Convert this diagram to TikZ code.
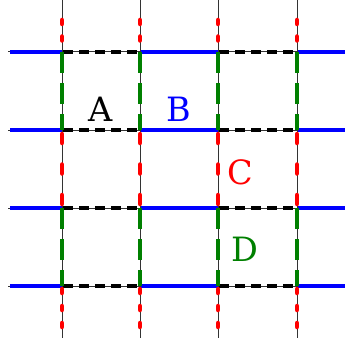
\documentclass[tikz,border=0pt]{standalone}
\usepackage{fontspec}
\setmainfont{DejaVu Serif}
\usetikzlibrary{positioning,calc}

\begin{document}
\begin{tikzpicture}[
  x=1pt, y=-1pt,
  gridline/.style={draw=black!80, line width=1pt},
  bluerun/.style={draw=blue, line width=4.5pt},
  blackrun/.style={draw=black, line width=4.5pt, dash pattern=on 10pt off 6pt, dash phase=15pt},
  redtip/.style={draw=red, line width=4.5pt, line cap=round, dash pattern=on 4pt off 12.5pt, dash phase=5pt},
  redmid/.style={draw=red, line width=4.5pt, line cap=round, dash pattern=on 9pt off 21.5pt, dash phase=26.5pt},
  redend/.style={draw=red, line width=4.5pt, line cap=round, dash pattern=on 4pt off 13pt, dash phase=14pt},
  greenrun/.style={draw=green!50!black, line width=4.5pt, dash pattern=on 20.5pt off 10.5pt},
  letter/.style={inner sep=0pt, font=\fontsize{33.5}{38}\selectfont}
]
\useasboundingbox (0,0) rectangle (345,345);

% grid points
\foreach \i/\x in {1/62,2/140,3/218,4/297}
  \foreach \j/\y in {1/52,2/130,3/208,4/286}
    \coordinate (p\i\j) at (\x,\y);

% rows
\foreach \j/\y in {1/52,2/130,3/208,4/286} {
  \draw[gridline] (8,\y) -- (345,\y);
  \draw[bluerun] (10,\y) -- (p1\j);
  \draw[bluerun] (p2\j) -- (p3\j);
  \draw[bluerun] (p4\j) -- (345,\y);
  \draw[blackrun] (p1\j) -- (p2\j);
  \draw[blackrun] (p3\j) -- (p4\j);
}

% columns
\foreach \i/\x in {1/62,2/140,3/218,4/297} {
  \draw[gridline] (\x,0) -- (\x,338);
  \draw[redtip] (p\i1) -- (\x,12);
  \draw[greenrun] (p\i1) -- (p\i2);
  \draw[redmid] (p\i2) -- (p\i3);
  \draw[greenrun] (p\i3) -- (p\i4);
  \draw[redend] (p\i4) -- (\x,338);
}

% labels
\node[letter, text=black] (A) at (101,109) {A};
\node[letter, text=blue] (B) at (179,109) {B};
\node[letter, text=red] (C) at (240,172) {C};
\node[letter, text=green!50!black] (D) at (245,249) {D};

\end{tikzpicture}
\end{document}
